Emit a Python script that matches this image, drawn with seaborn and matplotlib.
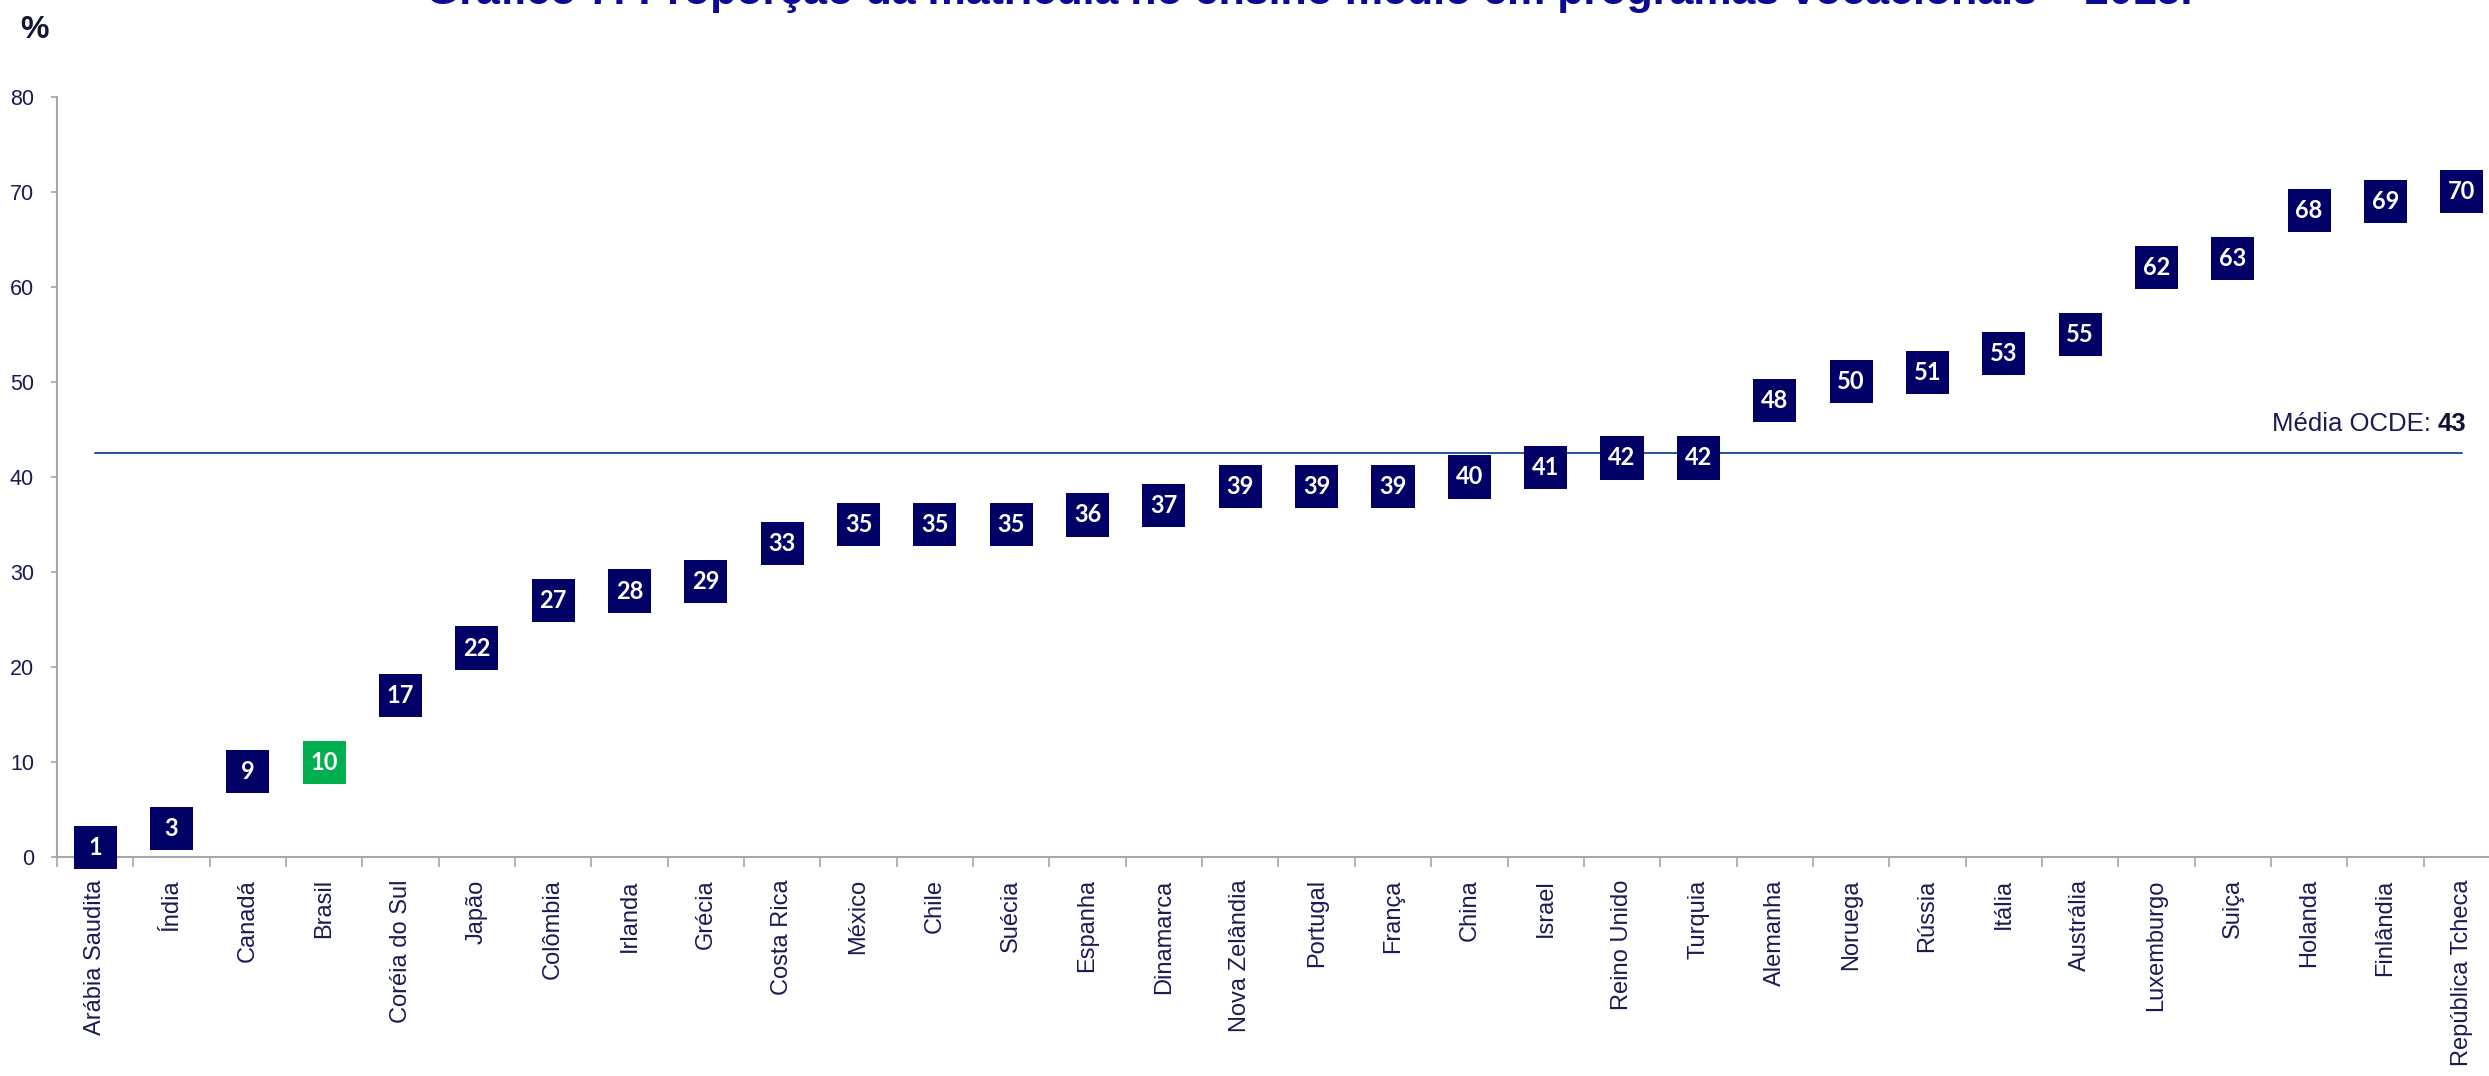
import numpy as np
import pandas as pd
import seaborn as sns
import matplotlib.pyplot as plt
from matplotlib import font_manager

# dados do grafico (% de matriculas no ensino medio em programas vocacionais)
paises = ['Arábia Saudita', 'Índia', 'Canadá', 'Brasil', 'Coréia do Sul', 'Japão',
          'Colômbia', 'Irlanda', 'Grécia', 'Costa Rica', 'México', 'Chile', 'Suécia',
          'Espanha', 'Dinamarca', 'Nova Zelândia', 'Portugal', 'França', 'China',
          'Israel', 'Reino Unido', 'Turquia', 'Alemanha', 'Noruega', 'Rússia',
          'Itália', 'Austrália', 'Luxemburgo', 'Suiça', 'Holanda', 'Finlândia',
          'República Tcheca']
valores = [1, 3, 9, 10, 17, 22, 27, 28, 29, 33, 35, 35, 35, 36, 37, 39, 39, 39, 40,
           41, 42, 42, 48, 50, 51, 53, 55, 62, 63, 68, 69, 70]
destaque = 'Brasil'
media_ocde = 42.5
rotulo_media = '43'
y_ticks = [0, 10, 20, 30, 40, 50, 60, 70, 80]

titulo = 'Gráfico 7: Proporção da matrícula no ensino médio em programas vocacionais – 2015.'

# cores
azul = '#000066'
verde = '#00b050'
texto = '#1a1a55'
cinza = '#a6a6a6'

sns.set_style('white')
plt.rcParams['font.family'] = ['Liberation Sans', 'DejaVu Sans']

nomes = {f.name for f in font_manager.fontManager.ttflist}
narrow = 'Liberation Sans Narrow' in nomes

df = pd.DataFrame({'pais': paises, 'valor': valores})
df['grupo'] = np.where(df['pais'] == destaque, 'br', 'outros')
n = len(df)

fig = plt.figure(figsize=(24.89, 10.76), dpi=100)
ax = fig.add_axes([0.0229, 0.2035, 0.9815, 0.7064])

# linha da media OCDE
ax.plot([0, n - 1], [media_ocde, media_ocde], color='#1f5597', lw=1.4, zorder=1)

sns.scatterplot(data=df, x='pais', y='valor', hue='grupo',
                palette={'br': verde, 'outros': azul}, marker='s', s=960,
                linewidth=0, legend=False, zorder=3, clip_on=False, ax=ax)

for i, v in enumerate(df['valor']):
    ax.text(i, v, str(v), color='white', fontsize=17, fontweight='bold',
            family=['Lato', 'DejaVu Sans'], ha='center', va='center', zorder=4)

ax.set_xlim(-0.5, n - 0.5)
ax.set_ylim(0, 80)
ax.set_yticks(y_ticks)
ax.set_xticks(range(n))
ax.set_xticklabels(paises, rotation=90, fontsize=17, color=texto)
ax.set_xticks(np.arange(-0.5, n, 1), minor=True)
ax.tick_params(axis='x', which='major', length=0, pad=16)
ax.tick_params(axis='x', which='minor', length=7.5, width=1.2, color=cinza,
               direction='out', bottom=True)
ax.tick_params(axis='y', length=4.5, width=1.2, color=cinza, direction='out',
               labelsize=15.5, labelcolor=texto, pad=12, left=True)
ax.set_xlabel('')
ax.set_ylabel('')

sns.despine(ax=ax, top=True, right=True)
for s in ['left', 'bottom']:
    ax.spines[s].set_color(cinza)
    ax.spines[s].set_linewidth(1.5)
ax.patch.set_alpha(0)

# rotulo da media
if narrow:
    fam, tam = ['Liberation Sans Narrow', 'Liberation Sans'], 22
else:
    fam, tam = ['Liberation Sans', 'DejaVu Sans'], 18.5
t43 = ax.text(n - 1 + 0.06, media_ocde + 1.8, rotulo_media, family=fam,
              fontsize=tam, fontweight='bold', color='#111133',
              ha='right', va='bottom')
ax.annotate('Média OCDE:', xy=(0, 0), xycoords=t43, xytext=(-5, 0),
            textcoords='offset points', family=fam, fontsize=tam, color=texto,
            ha='right', va='bottom')

# titulo (cortado no topo como na imagem original) e unidade
fig.text(0.526, 0.9963, titulo, ha='center', va='baseline', fontsize=31,
         fontweight='bold', color='#0a0a96')
fig.text(0.008, 1 - 38 / 1076, '%', ha='left', va='baseline', fontsize=23,
         fontweight='bold', color='#141433')

fig.savefig('out.png', dpi=100, facecolor='white')
